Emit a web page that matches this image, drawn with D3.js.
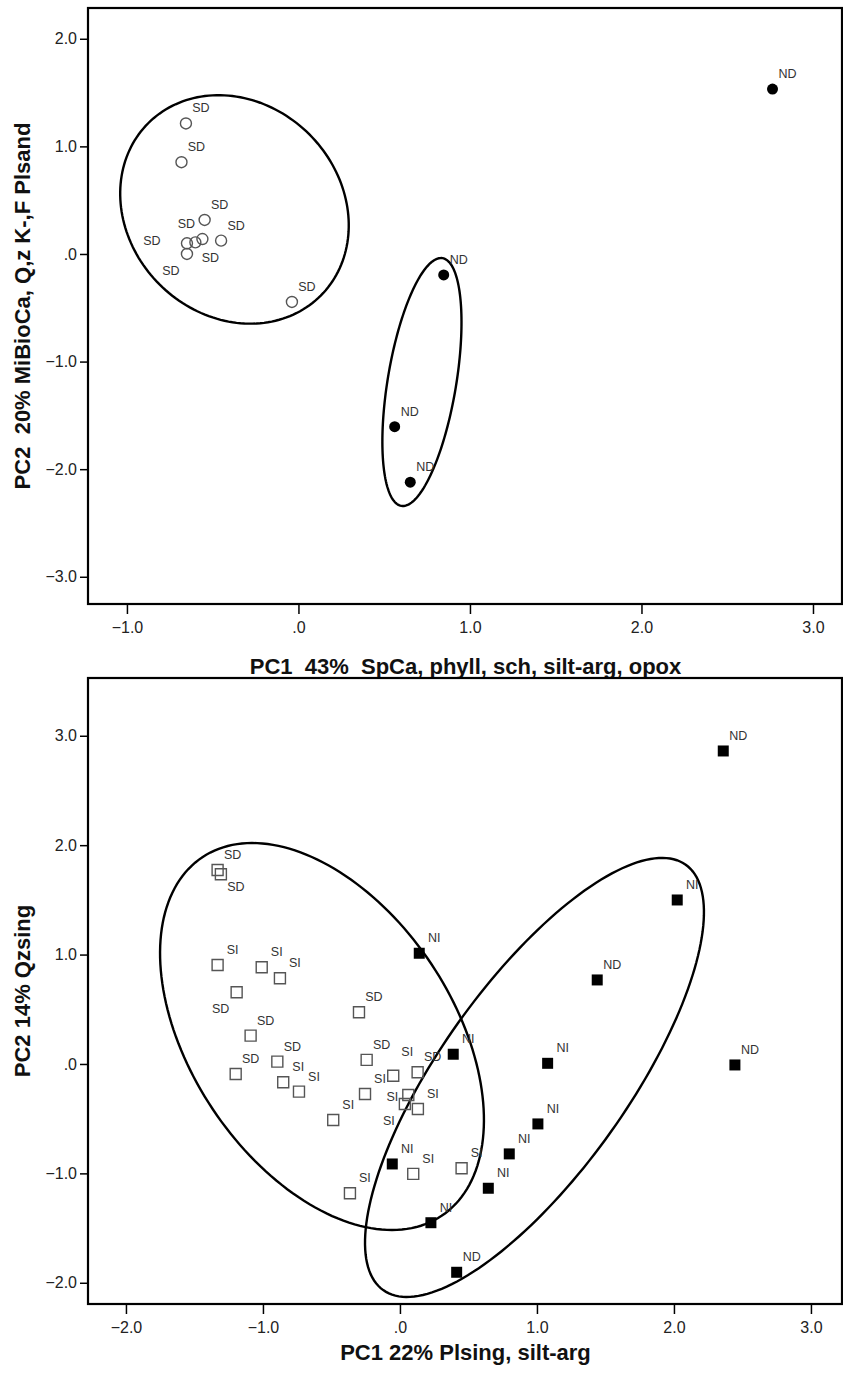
<!DOCTYPE html>
<html>
<head>
<meta charset="utf-8">
<script src="https://cdn.jsdelivr.net/npm/d3@7/dist/d3.min.js"></script>
<style>
  html, body { margin: 0; padding: 0; background: #fff; }
  svg { display: block; }
  .tick text { font-family: "Liberation Sans", Arial, sans-serif; font-size: 16px; fill: #222; }
  .ptlabel { font-family: "Liberation Sans", Arial, sans-serif; font-size: 12.5px; fill: #333; }
  .axtitle { font-family: "Liberation Sans", Arial, sans-serif; font-size: 22px; font-weight: bold; fill: #111; white-space: pre; }
</style>
</head>
<body>
<script>
// ---------- Upper plot: PC1 vs PC2 (circles) ----------
const upperTicksX = [-1, 0, 1, 2, 3];
const upperTicksY = [-3, -2, -1, 0, 1, 2];
const upperTitleX = "PC1  43%  SpCa, phyll, sch, silt-arg, opox";
const upperTitleY = "PC2  20% MiBioCa, Q,z K-,F Plsand";

const upperOpenLabel = ["SD", "SD", "SD", "SD", "SD", "SD", "SD", "SD", "SD"];
const upperOpenX = [-0.656, -0.682, -0.547, -0.650, -0.601, -0.560, -0.451, -0.650, -0.038];
const upperOpenY = [1.213, 0.853, 0.316, 0.099, 0.108, 0.139, 0.124, 0.000, -0.446];
const upperOpenPlace = ["ne", "ne", "ne", "w", "n", "s", "ne", "sw", "ne"];

const upperFilledLabel = ["ND", "ND", "ND", "ND"];
const upperFilledX = [2.764, 0.847, 0.561, 0.652];
const upperFilledY = [1.533, -0.195, -1.605, -2.121];
const upperFilledPlace = ["ne", "ne", "ne", "ne"];

// group ellipses: centre and two conjugate semi-diameters, in PC units
const upperEllipses = [
  { cx: -0.373, cy: 0.414, ux: 0.503, uy: -0.801, vx: -0.437, vy: -0.697 },
  { cx: 0.720, cy: -1.190, ux: 0.120, uy: 1.151, vx: 0.197, vy: -0.052 }
];

// ---------- Lower plot: PC1 vs PC2 (squares) ----------
const lowerTicksX = [-2, -1, 0, 1, 2, 3];
const lowerTicksY = [-2, -1, 0, 1, 2, 3];
const lowerTitleX = "PC1 22% Plsing, silt-arg";
const lowerTitleY = "PC2 14% Qzsing";

const lowerOpenLabel = ["SD", "SD", "SI", "SI", "SI", "SD", "SD", "SD", "SD", "SI", "SI", "SD",
  "SD", "SI", "SD", "SI", "SI", "SI", "SI", "SI", "SI", "SI", "SI"];
const lowerOpenX = [-1.331, -1.307, -1.331, -1.009, -0.876, -1.192, -1.090, -0.895, -1.199, -0.852,
  -0.737, -0.299, -0.243, -0.049, 0.129, -0.255, 0.061, 0.036, 0.131, -0.487, 0.097, 0.450, -0.365];
const lowerOpenY = [1.773, 1.734, 0.905, 0.884, 0.783, 0.655, 0.259, 0.021, -0.091, -0.167,
  -0.253, 0.473, 0.037, -0.107, -0.076, -0.274, -0.283, -0.366, -0.411, -0.512, -1.005, -0.953, -1.182];
const lowerOpenPlace = ["ne", "se", "ne", "ne", "ne", "sw", "ne", "ne", "ne", "ne", "ne", "ne",
  "ne", "ne2", "ne", "ne", "wl", "sw", "ne", "ne", "ne", "ne", "ne"];

const lowerFilledLabel = ["NI", "ND", "NI", "ND", "NI", "ND", "NI", "NI", "NI", "NI", "NI", "NI", "ND"];
const lowerFilledX = [0.141, 2.360, 2.024, 1.440, 1.078, 2.445, 0.389, 1.007, 0.798, 0.645, -0.056, 0.226, 0.414];
const lowerFilledY = [1.012, 2.861, 1.499, 0.768, 0.006, -0.009, 0.089, -0.548, -0.822, -1.136, -0.914, -1.451, -1.904];
const lowerFilledPlace = ["ne", "ne", "ne", "ne", "ne", "ne", "ne", "ne", "ne", "ne", "ne", "ne", "ne"];

const lowerEllipses = [
  { cx: -0.569, cy: 0.251, ux: 0.873, uy: -1.639, vx: -0.797, vy: -0.665 },
  { cx: 0.982, cy: -0.123, ux: 1.104, uy: 1.944, vx: 0.558, vy: -0.497 }
];

// ---------- drawing ----------
const W = 843, H = 1380;
const svg = d3.select("body").append("svg").attr("width", W).attr("height", H);

// label offsets (px) relative to the marker centre
const placeOffset = {
  ne: [15, -15], se: [15, 13], sw: [-16, 17], w: [-35, -2],
  n: [-9, -18], s: [8, 19], wl: [-16, 2], ne2: [14, -24]
};

function tickFmt(d) {
  return d === 0 ? ".0" : d3.format(".1f")(d);
}

function drawPlot(cfg) {
  const { box, xDomain, yDomain } = cfg;
  const x = d3.scaleLinear().domain(xDomain).range([box.left, box.right]);
  const y = d3.scaleLinear().domain(yDomain).range([box.bottom, box.top]);
  const g = svg.append("g");

  // ellipses
  const ts = d3.range(0, 2 * Math.PI, Math.PI / 90);
  const line = d3.line().curve(d3.curveLinearClosed);
  g.selectAll("path.ell").data(cfg.ellipses).join("path")
    .attr("class", "ell")
    .attr("d", e => line(ts.map(t => [
      x(e.cx + e.ux * Math.cos(t) + e.vx * Math.sin(t)),
      y(e.cy + e.uy * Math.cos(t) + e.vy * Math.sin(t))
    ])))
    .attr("fill", "none").attr("stroke", "#000").attr("stroke-width", 2.4);

  const sym = cfg.shape === "circle" ? d3.symbolCircle : d3.symbolSquare;
  const symSize = cfg.shape === "circle" ? Math.PI * 5.5 * 5.5 : 11 * 11;
  const symbol = d3.symbol().type(sym).size(symSize);

  const open = cfg.openX.map((v, i) => ({ x: v, y: cfg.openY[i], label: cfg.openLabel[i], place: cfg.openPlace[i] }));
  const filled = cfg.filledX.map((v, i) => ({ x: v, y: cfg.filledY[i], label: cfg.filledLabel[i], place: cfg.filledPlace[i] }));

  g.selectAll("path.open").data(open).join("path")
    .attr("class", "open")
    .attr("d", symbol)
    .attr("transform", d => `translate(${x(d.x)},${y(d.y)})`)
    .attr("fill", "none").attr("stroke", "#555").attr("stroke-width", 1.4);

  g.selectAll("path.filled").data(filled).join("path")
    .attr("class", "filled")
    .attr("d", symbol)
    .attr("transform", d => `translate(${x(d.x)},${y(d.y)})`)
    .attr("fill", "#000");

  g.selectAll("text.ptlabel").data(open.concat(filled)).join("text")
    .attr("class", "ptlabel")
    .attr("x", d => x(d.x) + placeOffset[d.place][0])
    .attr("y", d => y(d.y) + placeOffset[d.place][1])
    .attr("text-anchor", "middle")
    .attr("dominant-baseline", "central")
    .text(d => d.label);

  // axes
  const ax = g.append("g").attr("transform", `translate(0,${box.bottom})`)
    .call(d3.axisBottom(x).tickValues(cfg.ticksX).tickFormat(tickFmt).tickSize(10).tickPadding(8));
  const ay = g.append("g").attr("transform", `translate(${box.left},0)`)
    .call(d3.axisLeft(y).tickValues(cfg.ticksY).tickFormat(tickFmt).tickSize(8).tickPadding(3));
  [ax, ay].forEach(a => {
    a.select(".domain").remove();
    a.selectAll(".tick line").attr("stroke", "#000").attr("stroke-width", 1.5);
  });

  // frame
  g.append("rect")
    .attr("x", box.left).attr("y", box.top)
    .attr("width", box.right - box.left - 1).attr("height", box.bottom - box.top)
    .attr("fill", "none").attr("stroke", "#000").attr("stroke-width", 2.2);

  // titles
  g.append("text").attr("class", "axtitle")
    .attr("xml:space", "preserve")
    .attr("x", (box.left + box.right) / 2).attr("y", cfg.titleXPos)
    .attr("text-anchor", "middle").attr("dominant-baseline", "central")
    .text(cfg.titleX);
  g.append("text").attr("class", "axtitle")
    .attr("xml:space", "preserve")
    .attr("transform", `translate(22,${(box.top + box.bottom) / 2}) rotate(-90)`)
    .attr("text-anchor", "middle").attr("dominant-baseline", "central")
    .text(cfg.titleY);
}

drawPlot({
  box: { left: 88, right: 843, top: 8, bottom: 604 },
  xDomain: [-1.227, 3.175], yDomain: [-3.253, 2.286],
  ticksX: upperTicksX, ticksY: upperTicksY,
  titleX: upperTitleX, titleY: upperTitleY, titleXPos: 666,
  shape: "circle",
  openX: upperOpenX, openY: upperOpenY, openLabel: upperOpenLabel, openPlace: upperOpenPlace,
  filledX: upperFilledX, filledY: upperFilledY, filledLabel: upperFilledLabel, filledPlace: upperFilledPlace,
  ellipses: upperEllipses
});

drawPlot({
  box: { left: 88, right: 843, top: 678, bottom: 1304 },
  xDomain: [-2.277, 3.234], yDomain: [-2.194, 3.528],
  ticksX: lowerTicksX, ticksY: lowerTicksY,
  titleX: lowerTitleX, titleY: lowerTitleY, titleXPos: 1352,
  shape: "square",
  openX: lowerOpenX, openY: lowerOpenY, openLabel: lowerOpenLabel, openPlace: lowerOpenPlace,
  filledX: lowerFilledX, filledY: lowerFilledY, filledLabel: lowerFilledLabel, filledPlace: lowerFilledPlace,
  ellipses: lowerEllipses
});
</script>
</body>
</html>
